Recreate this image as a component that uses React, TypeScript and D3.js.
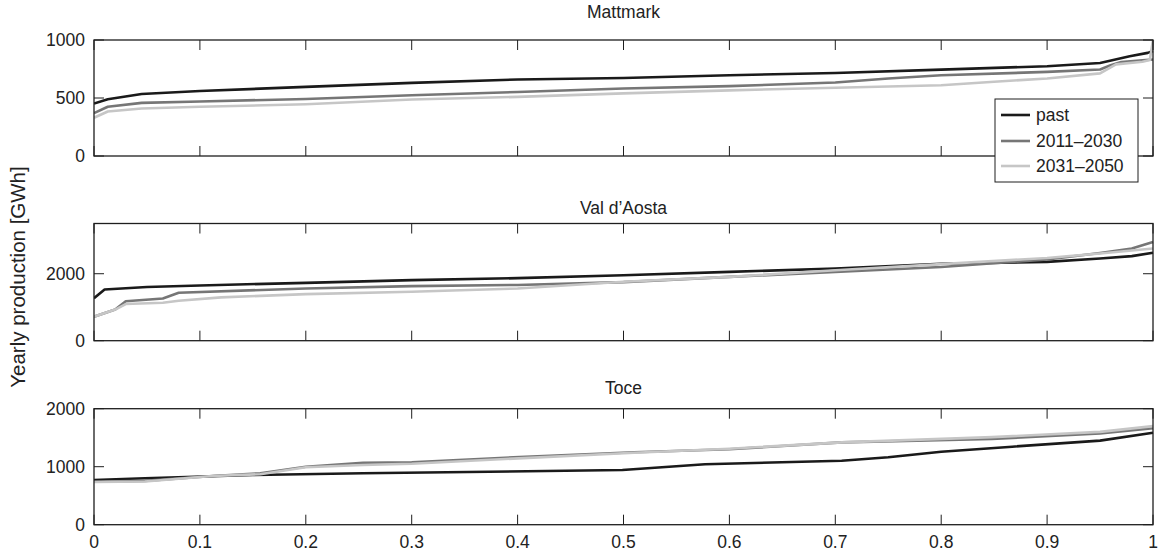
import * as d3 from "d3";

// ---- data (exceedance-style sorted yearly production, GWh) ----
const seriesNames = ["past", "2011\u20132030", "2031\u20132050"];
const seriesColors = ["#1a1a1a", "#767676", "#c6c6c6"];

const mattmarkPast: [number, number][] = [
  [0, 452], [0.013, 489], [0.045, 535], [0.1, 560], [0.2, 596], [0.3, 630], [0.4, 660],
  [0.5, 672], [0.6, 696], [0.7, 716], [0.8, 745], [0.9, 774], [0.95, 802], [0.978, 860],
  [0.995, 889], [1, 905],
];
const mattmark2011: [number, number][] = [
  [0, 370], [0.013, 425], [0.045, 458], [0.1, 470], [0.2, 492], [0.3, 524], [0.4, 552],
  [0.5, 582], [0.6, 602], [0.7, 633], [0.75, 668], [0.8, 696], [0.9, 725], [0.95, 746],
  [0.96, 782], [0.97, 810], [0.99, 826], [1, 832],
];
const mattmark2031: [number, number][] = [
  [0, 330], [0.013, 384], [0.045, 410], [0.1, 424], [0.2, 446], [0.3, 487], [0.4, 510],
  [0.5, 540], [0.6, 566], [0.7, 588], [0.8, 610], [0.85, 640], [0.9, 668], [0.95, 712],
  [0.965, 790], [0.99, 812], [0.997, 828], [1, 1000],
];

const aostaPast: [number, number][] = [
  [0, 1270], [0.01, 1530], [0.05, 1605], [0.1, 1650], [0.2, 1728], [0.3, 1808], [0.4, 1868],
  [0.5, 1955], [0.6, 2055], [0.7, 2155], [0.8, 2300], [0.9, 2355], [0.95, 2455], [0.98, 2525],
  [1, 2624],
];
const aosta2011: [number, number][] = [
  [0, 716], [0.02, 930], [0.03, 1180], [0.065, 1262], [0.08, 1430], [0.2, 1560], [0.3, 1630],
  [0.4, 1665], [0.5, 1750], [0.6, 1905], [0.7, 2055], [0.8, 2200], [0.9, 2425], [0.95, 2620],
  [0.98, 2755], [1, 2950],
];
const aosta2031: [number, number][] = [
  [0, 716], [0.02, 930], [0.03, 1094], [0.065, 1133], [0.08, 1193], [0.12, 1294], [0.2, 1392],
  [0.3, 1461], [0.4, 1560], [0.5, 1760], [0.6, 1905], [0.7, 2105], [0.8, 2288], [0.9, 2472],
  [0.95, 2605], [1, 2755],
];

const tocePast: [number, number][] = [
  [0, 771], [0.048, 800], [0.15, 857], [0.254, 886], [0.499, 943], [0.577, 1041],
  [0.706, 1103], [0.75, 1162], [0.8, 1259], [0.867, 1345], [0.95, 1449], [1, 1586],
];
const toce2011: [number, number][] = [
  [0, 741], [0.048, 755], [0.112, 840], [0.157, 886], [0.2, 1000], [0.254, 1069],
  [0.3, 1075], [0.396, 1162], [0.51, 1248], [0.6, 1300], [0.706, 1420], [0.848, 1478],
  [0.95, 1575], [1, 1662],
];
const toce2031: [number, number][] = [
  [0, 735], [0.048, 745], [0.112, 840], [0.157, 870], [0.2, 990], [0.254, 1030],
  [0.3, 1050], [0.396, 1140], [0.51, 1240], [0.6, 1310], [0.706, 1420], [0.848, 1510],
  [0.95, 1600], [1, 1700],
];

const panelTitles = ["Mattmark", "Val d\u2019Aosta", "Toce"];
const panelMax = [1000, 3500, 2000];
const panelTicks = [[0, 500, 1000], [0, 2000], [0, 1000, 2000]];
const xTicks = [0, 0.1, 0.2, 0.3, 0.4, 0.5, 0.6, 0.7, 0.8, 0.9, 1];
const panelData = [
  [mattmarkPast, mattmark2011, mattmark2031],
  [aostaPast, aosta2011, aosta2031],
  [tocePast, toce2011, toce2031],
];

const W = 1166;
const H = 555;
const left = 94;
const right = 1153;
const panelTops = [40, 223.5, 408.7];
const panelBottoms = [156, 340.7, 524.7];
const titleBaselines = [18, 214, 394];
const font = "'Liberation Sans', Arial, Helvetica, sans-serif";
const frame = "#1e1e1e";
const fs = 17.5;

function Panel({ i }: { i: number }) {
  const x = d3.scaleLinear().domain([0, 1]).range([left, right]);
  const y = d3.scaleLinear().domain([0, panelMax[i]]).range([panelBottoms[i], panelTops[i]]);
  const line = d3
    .line<[number, number]>()
    .x((d) => x(d[0]))
    .y((d) => y(d[1]));
  const top = panelTops[i];
  const bottom = panelBottoms[i];
  const tl = 10;
  return (
    <g>
      <defs>
        <clipPath id={`clip-${i}`}>
          <rect x={left} y={top - 2} width={right - left + 2} height={bottom - top + 2} />
        </clipPath>
      </defs>
      <text x={(left + right) / 2} y={titleBaselines[i]} textAnchor="middle" fontSize={fs} fontFamily={font} fill="#222">
        {panelTitles[i]}
      </text>
      <g clipPath={`url(#clip-${i})`}>
        {panelData[i].map((s, k) => (
          <path key={k} d={line(s) || ""} fill="none" stroke={seriesColors[k]} strokeWidth={2.6} strokeLinejoin="round" />
        ))}
      </g>
      {xTicks.map((t) => (
        <g key={`xt-${t}`}>
          <line x1={x(t)} x2={x(t)} y1={bottom} y2={bottom - tl} stroke={frame} strokeWidth={1} />
          <line x1={x(t)} x2={x(t)} y1={top} y2={top + tl} stroke={frame} strokeWidth={1} />
          {i === 2 && (
            <text x={x(t)} y={bottom + 23} textAnchor="middle" fontSize={fs} fontFamily={font} fill="#222">
              {t}
            </text>
          )}
        </g>
      ))}
      {panelTicks[i].map((t) => (
        <g key={`yt-${t}`}>
          <line x1={left} x2={left + tl} y1={y(t)} y2={y(t)} stroke={frame} strokeWidth={1} />
          <line x1={right} x2={right - tl} y1={y(t)} y2={y(t)} stroke={frame} strokeWidth={1} />
          <text x={left - 9} y={y(t)} dy="0.35em" textAnchor="end" fontSize={fs} fontFamily={font} fill="#222">
            {t}
          </text>
        </g>
      ))}
      <rect x={left} y={top} width={right - left} height={bottom - top} fill="none" stroke={frame} strokeWidth={1.3} />
    </g>
  );
}

function Legend() {
  const lx = 995;
  const ly = 99;
  const rows = [115, 141, 166];
  return (
    <g>
      <rect x={lx} y={ly} width={143} height={83} fill="#fff" stroke={frame} strokeWidth={1} />
      {seriesNames.map((n, k) => (
        <g key={n}>
          <line x1={1001} x2={1030} y1={rows[k]} y2={rows[k]} stroke={seriesColors[k]} strokeWidth={2.6} />
          <text x={1036} y={rows[k]} dy="0.35em" fontSize={fs} fontFamily={font} fill="#222">
            {n}
          </text>
        </g>
      ))}
    </g>
  );
}

export default function App() {
  return (
    <svg width={W} height={H} style={{ position: "absolute", left: 0, top: 0, background: "#fff" }}>
      <rect width={W} height={H} fill="#fff" />
      {[0, 1, 2].map((i) => (
        <Panel key={i} i={i} />
      ))}
      <Legend />
      <text
        transform={`translate(25, 277) rotate(-90)`}
        textAnchor="middle"
        fontSize={20.5}
        fontFamily={font}
        fill="#222"
      >
        Yearly production [GWh]
      </text>
    </svg>
  );
}
